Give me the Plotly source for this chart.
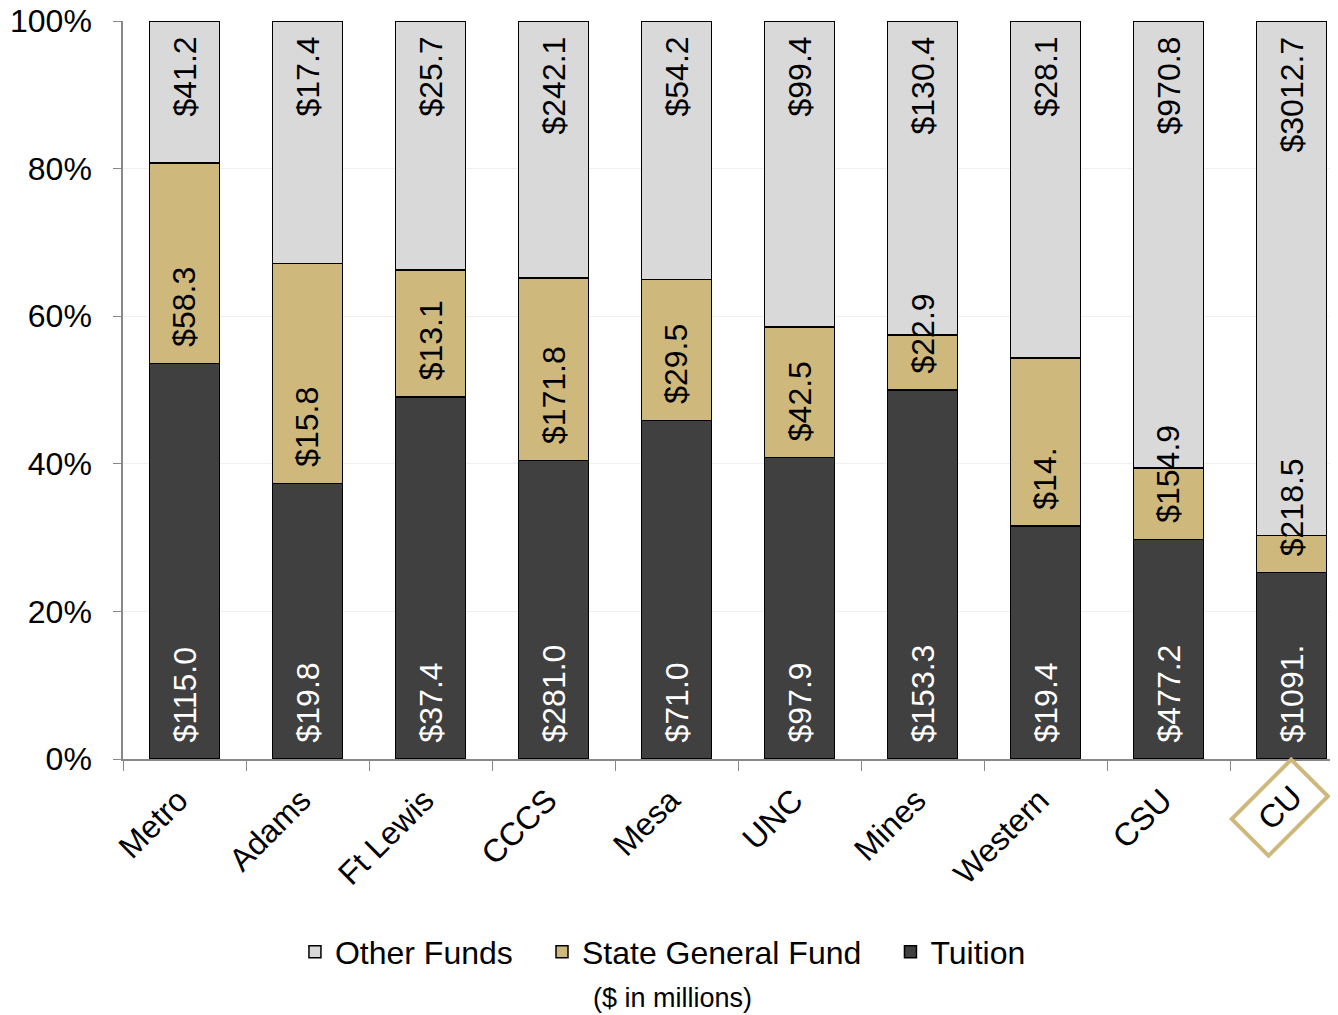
import plotly.graph_objects as go

schools = ["Metro", "Adams", "Ft Lewis", "CCCS", "Mesa", "UNC", "Mines", "Western", "CSU", "CU"]

tuition = [115.0, 19.8, 37.4, 281.0, 71.0, 97.9, 153.3, 19.4, 477.2, 1091.0]
state_fund = [58.3, 15.8, 13.1, 171.8, 29.5, 42.5, 22.9, 14.0, 154.9, 218.5]
other_funds = [41.2, 17.4, 25.7, 242.1, 54.2, 99.4, 130.4, 28.1, 970.8, 3012.7]

# labels as shown (some are clipped in the original)
tuition_labels = ["$115.0", "$19.8", "$37.4", "$281.0", "$71.0", "$97.9", "$153.3", "$19.4", "$477.2", "$1091."]
state_labels = ["$58.3", "$15.8", "$13.1", "$171.8", "$29.5", "$42.5", "$22.9", "$14.", "$154.9", "$218.5"]
other_labels = ["$41.2", "$17.4", "$25.7", "$242.1", "$54.2", "$99.4", "$130.4", "$28.1", "$970.8", "$3012.7"]

pct_ticks = [0, 20, 40, 60, 80, 100]

FONT = "Liberation Sans, Arial, sans-serif"
FS = 32
c_tuition = "#404040"
c_state = "#cfb87c"
c_other = "#d9d9d9"
NB = "\u00a0\u00a0\u2009"  # a bit of extra room between legend entries

fig = go.Figure()
for name, vals, col in [("Tuition", tuition, c_tuition),
                        ("State General Fund" + NB, state_fund, c_state),
                        ("Other Funds" + NB, other_funds, c_other)]:
    fig.add_trace(go.Bar(x=schools, y=vals, name=name, marker_color=col,
                         marker_line=dict(color="#000000", width=1.5),
                         hoverinfo="skip"))

annos = []
for i, s in enumerate(schools):
    tot = tuition[i] + state_fund[i] + other_funds[i]
    tp = tuition[i] / tot * 100
    annos.append(dict(x=s, y=0, text=tuition_labels[i], textangle=-90, yanchor="bottom",
                      yshift=14, showarrow=False, font=dict(color="white", size=FS, family=FONT)))
    annos.append(dict(x=s, y=tp, text=state_labels[i], textangle=-90, yanchor="bottom",
                      yshift=14, showarrow=False, font=dict(color="black", size=FS, family=FONT)))
    annos.append(dict(x=s, y=100, text=other_labels[i], textangle=-90, yanchor="top",
                      yshift=-14, showarrow=False, font=dict(color="black", size=FS, family=FONT)))

# highlighted CU category label
annos.append(dict(x="CU", y=-0.0664, yref="paper", xanchor="center", yanchor="middle",
                  xshift=-12, text="CU", textangle=-45, showarrow=False,
                  width=80, height=48, bordercolor=c_state, borderwidth=4, borderpad=0,
                  font=dict(color="black", size=FS, family=FONT)))
annos.append(dict(x=0.452, xref="paper", y=-0.324, yref="paper", xanchor="center", yanchor="middle",
                  text="($ in millions)", showarrow=False,
                  font=dict(color="black", size=27, family=FONT)))

fig.update_layout(
    barmode="stack", barnorm="percent", bargap=0.43,
    width=1338, height=1015,
    margin=dict(l=115, r=8, t=13, b=264),
    plot_bgcolor="white", paper_bgcolor="white",
    font=dict(family=FONT, size=FS, color="black"),
    annotations=annos,
    legend=dict(orientation="h", traceorder="reversed", xref="container", yref="container",
                x=0.4895, xanchor="center", y=0.070, yanchor="middle",
                font=dict(size=FS, family=FONT), itemwidth=30),
    showlegend=True,
)
fig.update_xaxes(range=[-0.5, 9.378], showline=True, linecolor="#888888", linewidth=1.5,
                 ticks="outside", tickson="boundaries", ticklen=10, tickcolor="#888888",
                 tickangle=-45, tickmode="array", tickvals=schools,
                 ticktext=[s if s != "CU" else "" for s in schools],
                 ticklabelshift=-6, ticklabelstandoff=8,
                 tickfont=dict(size=FS), automargin=False)
fig.update_yaxes(range=[0, 100], tickmode="array", tickvals=pct_ticks,
                 ticktext=[f"{v}%" for v in pct_ticks], ticklabeloverflow="allow",
                 showline=True, linecolor="#888888", linewidth=1.5, ticks="outside",
                 ticklen=8, tickcolor="#888888", gridcolor="#efefef", zeroline=False,
                 ticklabelstandoff=15, tickfont=dict(size=FS), automargin=False)

fig.write_html("out.html")
